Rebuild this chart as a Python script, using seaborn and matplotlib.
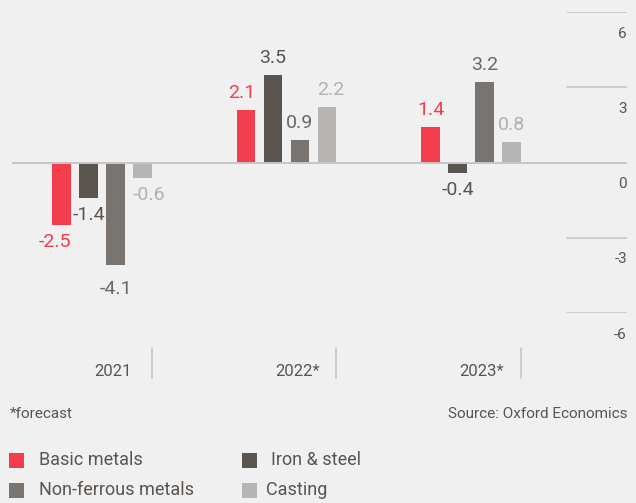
import numpy as np
import pandas as pd
import matplotlib
matplotlib.use("Agg")
import matplotlib.pyplot as plt
from matplotlib.patches import Rectangle
import seaborn as sns

# ---- data -------------------------------------------------------------
years = ["2021", "2022*", "2023*"]
series = ["Basic metals", "Iron & steel", "Non-ferrous metals", "Casting"]
basic_metals = [-2.5, 2.1, 1.4]
iron_steel = [-1.4, 3.5, -0.4]
non_ferrous = [-4.1, 0.9, 3.2]
casting = [-0.6, 2.2, 0.8]
y_ticks = [6, 3, 0, -3, -6]

# ---- styling ----------------------------------------------------------
BG = "#f0f0f0"
TEXT = "#5a5450"
GRID = "#c6c6c6"
bar_colors = ["#f23d4c", "#5b554f", "#7a7471", "#b7b5b3"]
label_colors = ["#f23d4c", "#5b554f", "#6d6764", "#b3b1af"]
# horizontal anchoring of a few value labels to keep them clear of neighbours
label_align = {(0, 0): "right", (0, 1): "right", (3, 0): "left", (3, 1): "left"}
# extra vertical gap (points) for the deepest bar's label
label_extra = {(2, 0): 5}

sns.set_style("white")
plt.rcParams["font.family"] = ["Roboto", "DejaVu Sans"]

df = pd.DataFrame({
    "year": years * 4,
    "series": np.repeat(series, len(years)),
    "value": basic_metals + iron_steel + non_ferrous + casting,
})

W, H = 636, 503
fig = plt.figure(figsize=(W / 100, H / 100), dpi=100, facecolor=BG)
ax_left, ax_right, ax_top, ax_bot = 12, 627, 12, 313
ax = fig.add_axes([ax_left / W, 1 - ax_bot / H,
                   (ax_right - ax_left) / W, (ax_bot - ax_top) / H])
ax.set_facecolor(BG)

sns.barplot(data=df, x="year", y="value", hue="series", order=years,
            hue_order=series, palette=bar_colors, width=0.585, gap=0.3,
            saturation=1, errorbar=None, legend=False, ax=ax, zorder=2,
            linewidth=0, edgecolor="none")

ax.set_xlim(-0.488, 2.846)
ax.set_ylim(-6, 6)
for s in ax.spines.values():
    s.set_visible(False)
ax.set_xticks([])
ax.set_yticks([])
ax.set_xlabel("")
ax.set_ylabel("")

# value axis: full zero line, short stubs on the right for the other ticks
for v in y_ticks:
    if v == 0:
        ax.axhline(0, color=GRID, lw=1.4, zorder=3)
    else:
        ax.axhline(v, xmin=(567 - ax_left) / (ax_right - ax_left), xmax=1,
                   color=GRID, lw=1.2, zorder=1)
    ax.annotate(f"{v}", xy=(1, v), xycoords=("axes fraction", "data"),
                xytext=(0, -15.5), textcoords="offset points",
                ha="right", va="center", fontsize=11, color=TEXT,
                annotation_clip=False)

# value labels on each bar
for si, cont in enumerate(ax.containers):
    for yi, bar in enumerate(cont):
        val = cont.datavalues[yi]
        align = label_align.get((si, yi), "center")
        if align == "right":
            x = bar.get_x() + bar.get_width()
        elif align == "left":
            x = bar.get_x()
        else:
            x = bar.get_x() + bar.get_width() / 2
        gap = 12.3 + label_extra.get((si, yi), 0)
        dy = gap if val >= 0 else -gap
        ax.annotate(f"{val:.1f}", xy=(x, val), xytext=(0, dy),
                    textcoords="offset points", ha=align, va="center",
                    fontsize=14, color=label_colors[si],
                    annotation_clip=False)

# category labels with separators below the plot
xt = ax.get_xaxis_transform()
sep_top = -(348 - ax_bot) / (ax_bot - ax_top)
sep_bot = -(378 - ax_bot) / (ax_bot - ax_top)
lab_y = -(372 - ax_bot) / (ax_bot - ax_top)
for i, yr in enumerate(years):
    ax.plot([i + 0.271, i + 0.271], [sep_top, sep_bot], transform=xt,
            color=GRID, lw=1.2, clip_on=False)
    ax.text(i + 0.06, lab_y, yr, transform=xt, ha="center", va="center",
            fontsize=12, color=TEXT)

# footnotes
fig.text(10 / W, 1 - 414 / H, "*forecast", ha="left", va="center",
         fontsize=11, color=TEXT)
fig.text(627 / W, 1 - 414 / H, "Source: Oxford Economics", ha="right",
         va="center", fontsize=11, color=TEXT)

# legend
legend_items = [
    (series[0], bar_colors[0], 9, 460, 39),
    (series[1], bar_colors[1], 242, 460, 271),
    (series[2], bar_colors[2], 9, 490, 39),
    (series[3], bar_colors[3], 242, 490, 266),
]
for name, col, sx, cy, tx in legend_items:
    fig.patches.append(Rectangle((sx / W, 1 - (cy + 7.5) / H), 15 / W, 15 / H,
                                 transform=fig.transFigure, facecolor=col,
                                 edgecolor="none"))
    fig.text(tx / W, 1 - cy / H, name, ha="left", va="center",
             fontsize=13, color=TEXT)

fig.savefig("out.png", dpi=100, facecolor=BG)
